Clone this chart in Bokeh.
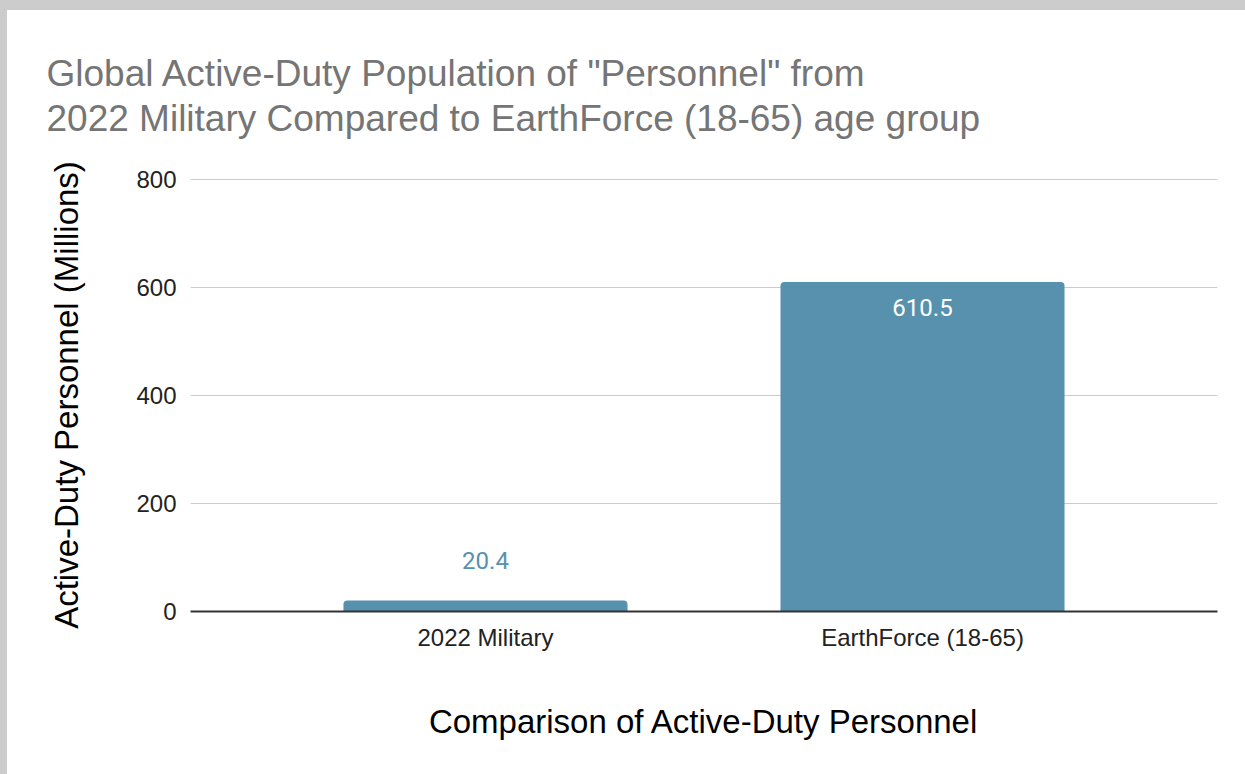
from bokeh.plotting import figure
from bokeh.models import ColumnDataSource, Range1d, FixedTicker, LabelSet, Title
from bokeh.core.properties import value
from bokeh.embed import file_html
from bokeh.resources import INLINE

# ---- data ----
title_lines = ['Global Active-Duty Population of "Personnel" from',
               '2022 Military Compared to EarthForce (18-65) age group']
categories = ["2022 Military", "EarthForce (18-65)"]
values = [20.4, 610.5]
y_ticks = [0, 200, 400, 600, 800]
x_axis_title = "Comparison of Active-Duty Personnel"
y_axis_title = "Active-Duty Personnel (Millions)"

# ---- style ----
BAR = "#5891ae"
FONT = "Liberation Sans"

xs = [i + 0.5 for i in range(len(categories))]
inside = [v > 100 for v in values]
src = ColumnDataSource(dict(
    x=xs,
    top=values,
    label=[f"{v:.1f}" for v in values],
    color=["#ffffff" if i else BAR for i in inside],
    yoff=[-34 if i else 31 for i in inside],
))

p = figure(width=1245, height=774,
           x_range=Range1d(-0.175, len(categories) + 0.175),
           y_range=Range1d(y_ticks[0], y_ticks[-1] * 1.0025),
           output_backend="svg", toolbar_location=None,
           min_border_left=190, min_border_right=28,
           min_border_top=178, min_border_bottom=163,
           styles={"background-color": "#ffffff",
                   "box-shadow": "inset 7px 10px 0 0 #cccccc"})
p.outline_line_color = None
p.background_fill_color = "#ffffff"
p.border_fill_color = None

p.vbar(x="x", top="top", width=0.65, source=src, fill_color=BAR,
       line_color=None, border_radius=(4, 4, 0, 0))

labels = LabelSet(x="x", y="top", text="label", source=src,
                  text_color="color", y_offset="yoff",
                  text_align="center", text_baseline="alphabetic",
                  text_font=value("Roboto"), text_font_size=value("24px"))
p.add_layout(labels)

title = Title(text="\n".join(title_lines), text_font=FONT, text_font_size="37px",
              text_font_style="normal", text_color="#757575", align="left",
              text_line_height=1.12, offset=-144, standoff=78)
p.add_layout(title, "above")

# x axis
xa = p.xaxis[0]
xa.ticker = FixedTicker(ticks=xs)
xa.major_label_overrides = {x: c for x, c in zip(xs, categories)}
xa.axis_line_color = "#333333"
xa.axis_line_width = 2
xa.major_tick_line_color = None
xa.minor_tick_line_color = None
xa.major_tick_out = 0
xa.major_tick_in = 0
xa.major_label_text_font = FONT
xa.major_label_text_font_size = "24px"
xa.major_label_text_color = "#222222"
xa.major_label_standoff = 12
xa.axis_label = x_axis_title
xa.axis_label_text_font = FONT
xa.axis_label_text_font_size = "33px"
xa.axis_label_text_font_style = "normal"
xa.axis_label_text_color = "#000000"
xa.axis_label_standoff = 49

# y axis
ya = p.yaxis[0]
ya.ticker = FixedTicker(ticks=y_ticks)
ya.axis_line_color = None
ya.major_tick_line_color = None
ya.minor_tick_line_color = None
ya.major_tick_out = 0
ya.major_tick_in = 0
ya.major_label_text_font = FONT
ya.major_label_text_font_size = "24px"
ya.major_label_text_color = "#222222"
ya.major_label_standoff = 14
ya.axis_label = y_axis_title
ya.axis_label_text_font = FONT
ya.axis_label_text_font_size = "33px"
ya.axis_label_text_font_style = "normal"
ya.axis_label_text_color = "#000000"
ya.axis_label_standoff = 48

p.xgrid.grid_line_color = None
p.ygrid.grid_line_color = "#cccccc"
p.ygrid.grid_line_width = 1

open("out.html", "w").write(file_html(p, INLINE))
